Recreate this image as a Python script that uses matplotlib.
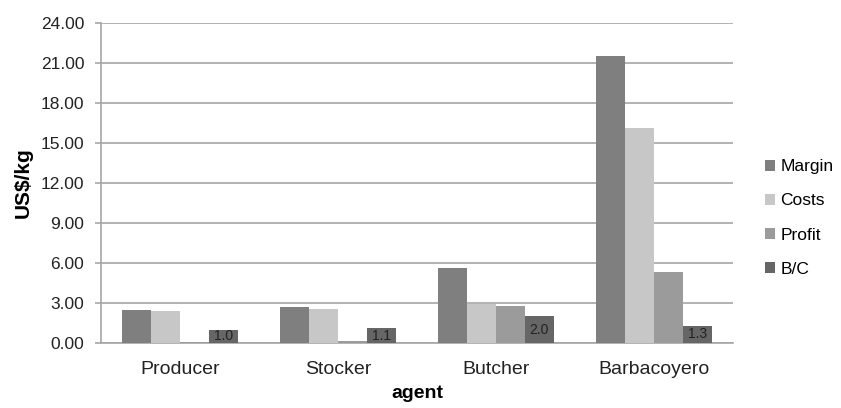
#!/usr/bin/env python
# -*- coding: utf-8 -*-
# Margins, costs, profit and benefit/cost ratio along the marketing chain.

import matplotlib
matplotlib.use("Agg")
import matplotlib.pyplot as plt
import numpy as np

# == DATA ==
agents = ["Producer", "Stocker", "Butcher", "Barbacoyero"]
margin = [2.50, 2.72, 5.65, 21.55]
costs = [2.40, 2.52, 2.90, 16.10]
profit = [0.05, 0.15, 2.75, 5.35]
bc_ratio = [1.0, 1.1, 2.0, 1.3]
y_ticks = [0, 3, 6, 9, 12, 15, 18, 21, 24]

series = [
    ("Margin", margin, "#7f7f7f"),
    ("Costs", costs, "#c6c7c6"),
    ("Profit", profit, "#9b9b9b"),
    ("B/C", bc_ratio, "#666666"),
]

# == PLOT ==
plt.rcParams["font.family"] = ["Liberation Sans", "DejaVu Sans"]
fig = plt.figure(figsize=(8.41, 4.08), dpi=100)
ax = fig.add_axes([101 / 841, 65 / 408, 632 / 841, 320 / 408])

x = np.arange(len(agents))
width = 0.182
offsets = (np.arange(len(series)) - 1.5) * width

bars = {}
for (name, values, color), off in zip(series, offsets):
    bars[name] = ax.bar(x + off, values, width, color=color, label=name,
                        edgecolor="none", zorder=3)

ax.bar_label(bars["B/C"], labels=[f"{v:.1f}" for v in bc_ratio],
             label_type="center", fontsize=10, color="#222222")

grid_col = "#a6a6a6"
ax.set_xlim(-0.5, len(agents) - 0.5)
ax.set_ylim(0, 24)
ax.set_yticks(y_ticks)
ax.set_yticklabels([f"{v:.2f}" for v in y_ticks], fontsize=12.5, color="#222222")
ax.set_xticks(x)
ax.set_xticklabels(agents, fontsize=14, color="#222222")
ax.yaxis.grid(True, color=grid_col, linewidth=1.2, zorder=0)
ax.tick_params(axis="y", length=4, width=1.2, color=grid_col, pad=8)
ax.tick_params(axis="x", length=0, pad=13)
for side in ["top", "right"]:
    ax.spines[side].set_visible(False)
for side in ["left", "bottom"]:
    ax.spines[side].set_color(grid_col)
    ax.spines[side].set_linewidth(1.2)

ax.set_ylabel("US$/kg", fontsize=15, fontweight="bold", labelpad=6)
ax.set_xlabel("agent", fontsize=14, fontweight="bold", labelpad=5)

fig.legend(loc="center left", bbox_to_anchor=(758 / 841, 1 - 218 / 408),
           frameon=False, fontsize=12.5, handlelength=0.6, handleheight=0.6,
           handletextpad=0.3, labelspacing=1.1, borderaxespad=0)

fig.savefig("out.png", dpi=100)
# EOF
